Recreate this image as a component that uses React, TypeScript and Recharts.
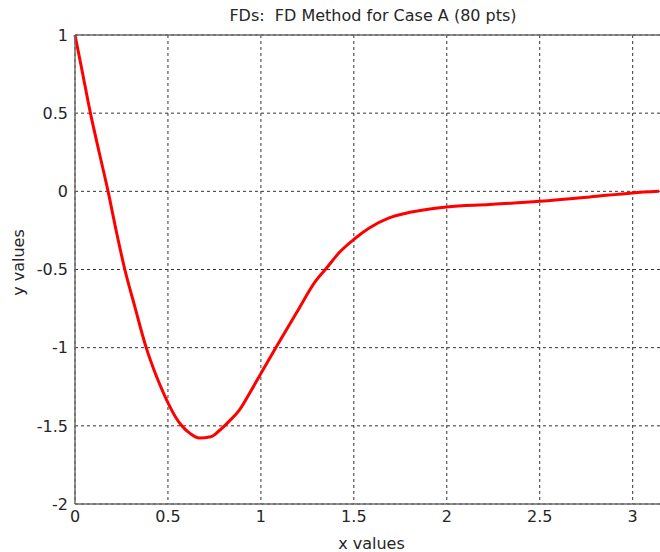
import React from 'react';
import { LineChart, Line, XAxis, YAxis, CartesianGrid, ReferenceLine } from 'recharts';

// x positions and y values
const xValues = [
  0, 0.04, 0.083, 0.13, 0.178, 0.223, 0.268, 0.32, 0.383, 0.437, 0.472, 0.501, 0.544, 0.571,
  0.62, 0.669, 0.73, 0.777, 0.83, 0.884, 0.94, 1.0, 1.08, 1.19, 1.297, 1.35, 1.423, 1.503,
  1.583, 1.69, 1.78, 1.9, 2.0, 2.23, 2.5, 2.77, 3.0, 3.1416,
];
const yValues = [
  1, 0.76, 0.5, 0.25, 0, -0.26, -0.5, -0.73, -1.0, -1.18, -1.28, -1.355, -1.45, -1.495,
  -1.55, -1.578, -1.57, -1.53, -1.47, -1.4, -1.29, -1.165, -1.0, -0.78, -0.57, -0.495, -0.39, -0.305,
  -0.235, -0.17, -0.14, -0.115, -0.1, -0.085, -0.064, -0.036, -0.01, 0,
];
const xTicks = [0, 0.5, 1, 1.5, 2, 2.5, 3];
const yTicks = [-2, -1.5, -1, -0.5, 0, 0.5, 1];

const chartData = xValues.map((x, i) => ({ x, y: yValues[i] }));

const font = '"DejaVu Sans", "Liberation Sans", Arial, sans-serif';
const fontSize = 16;
const textColor = '#262626';
const axisColor = '#6b6b6b';

const App: React.FC = () => {
  return (
    <div
      style={{
        position: 'absolute',
        left: 0,
        top: 0,
        width: 660,
        height: 552,
        overflow: 'hidden',
        background: '#fff',
        fontFamily: font,
      }}
    >
      <div
        style={{
          position: 'absolute',
          left: 0,
          width: 746,
          top: 6,
          textAlign: 'center',
          fontSize,
          color: textColor,
          whiteSpace: 'pre',
        }}
      >
        {'FDs:  FD Method for Case A (80 pts)'}
      </div>
      <LineChart
        width={672}
        height={552}
        data={chartData}
        margin={{ top: 35, right: 4, bottom: 0, left: 0 }}
        style={{ position: 'absolute', left: 0, top: 0 }}
      >
        <CartesianGrid stroke="#333" strokeDasharray="3 3" />
        <XAxis
          dataKey="x"
          type="number"
          domain={[0, 3.19]}
          ticks={xTicks}
          height={48}
          tickSize={0}
          tickMargin={7}
          stroke={axisColor}
          strokeWidth={1.5}
          tick={{ fill: textColor, fontSize, fontFamily: font }}
          label={{ value: 'x values', position: 'insideBottom', offset: 3, fill: textColor, fontSize, fontFamily: font }}
        />
        <YAxis
          type="number"
          domain={[-2, 1]}
          ticks={yTicks}
          width={75}
          tickSize={0}
          tickMargin={7}
          stroke={axisColor}
          strokeWidth={1.5}
          tick={{ fill: textColor, fontSize, fontFamily: font }}
          label={{ value: 'y values', angle: -90, position: 'center', dx: -19, dy: -7, fill: textColor, fontSize, fontFamily: font }}
        />
        <ReferenceLine y={1} stroke={axisColor} strokeWidth={1.5} />
        <Line
          type="monotone"
          dataKey="y"
          stroke="#ff0000"
          strokeWidth={3}
          dot={false}
          isAnimationActive={false}
        />
      </LineChart>
    </div>
  );
};

export default App;
